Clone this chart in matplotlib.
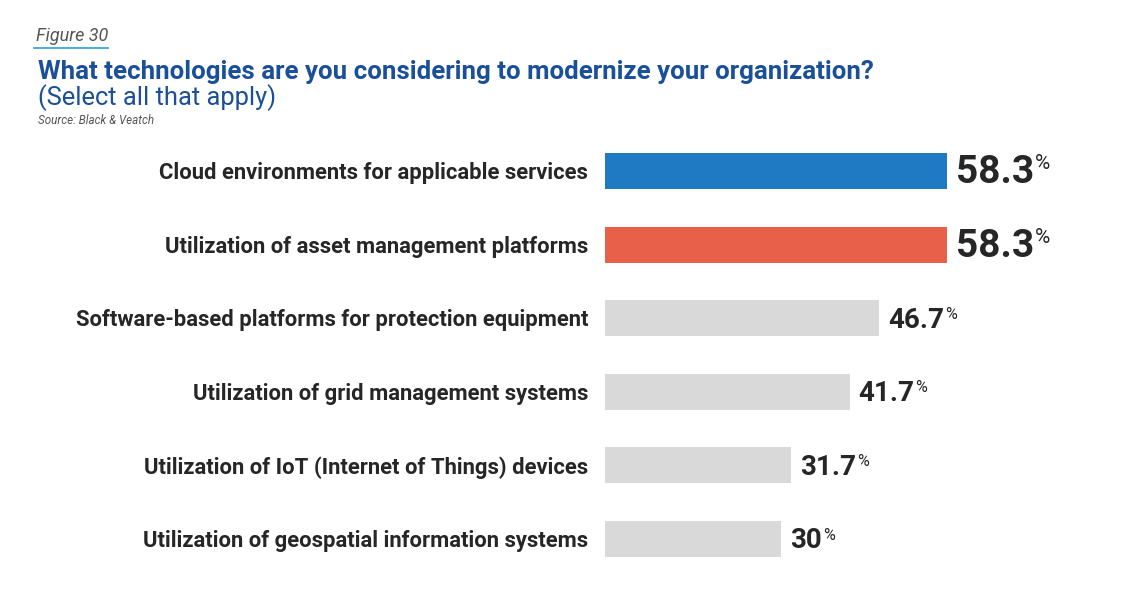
import matplotlib.pyplot as plt
import numpy as np

plt.rcParams['font.family'] = ['Roboto', 'DejaVu Sans']

categories = ["Cloud environments for applicable services",
              "Utilization of asset management platforms",
              "Software-based platforms for protection equipment",
              "Utilization of grid management systems",
              "Utilization of IoT (Internet of Things) devices",
              "Utilization of geospatial information systems"]
values = [58.3, 58.3, 46.7, 41.7, 31.7, 30]
value_labels = ["58.3", "58.3", "46.7", "41.7", "31.7", "30"]
colors = ["#1f7ac3", "#e8604a", "#d9d9d9", "#d9d9d9", "#d9d9d9", "#d9d9d9"]
big = [True, True, False, False, False, False]

W, H = 1140, 600
fig = plt.figure(figsize=(W / 100, H / 100), dpi=100)

left = 605 / W
top_px, bot_px = 134.2, 575.8
ax = fig.add_axes([left, 1 - bot_px / H, 1 - left, (bot_px - top_px) / H])
y = np.arange(len(categories))
ax.barh(y, values, height=0.49, color=colors)
ax.set_xlim(0, (W - 605) / 5.866)
ax.set_ylim(len(categories) - 0.5, -0.5)
ax.axis('off')

fig.canvas.draw()
r = fig.canvas.get_renderer()
for i, v in enumerate(values):
    ax.annotate(categories[i], (0, i), xytext=(-17, -2), textcoords='offset pixels',
                ha='right', va='center', fontsize=15.8, fontweight='bold', color='#262626')
    fs = 28 if big[i] else 20
    t = ax.annotate(value_labels[i], (v, i), xytext=(9, -2), textcoords='offset pixels',
                    ha='left', va='center', fontsize=fs, fontweight='bold', color='#262626')
    bb = t.get_window_extent(r)
    ax.annotate("%", (bb.x1 + 1, bb.y1), xycoords='figure pixels',
                ha='left', va='top', fontsize=15 if big[i] else 11.5, color='#262626')

# header
fig.text(36 / W, 1 - 36 / H, "Figure 30", fontsize=13, style='italic', color='#555555',
         ha='left', va='center')
fig.add_artist(plt.Line2D([34 / W, 108 / W], [1 - 48 / H, 1 - 48 / H], color='#2a9fd8', lw=1.2))
fig.text(38 / W, 1 - 72 / H, "What technologies are you considering to modernize your organization?",
         fontsize=18.6, fontweight='bold', color='#1a4f99', ha='left', va='center')
fig.text(38 / W, 1 - 98 / H, "(Select all that apply)", fontsize=18.4, color='#1a4f99',
         ha='left', va='center')
fig.text(38 / W, 1 - 121 / H, "Source: Black & Veatch", fontsize=8.4, style='italic',
         color='#555555', ha='left', va='center')

fig.savefig("out.png", dpi=100)
